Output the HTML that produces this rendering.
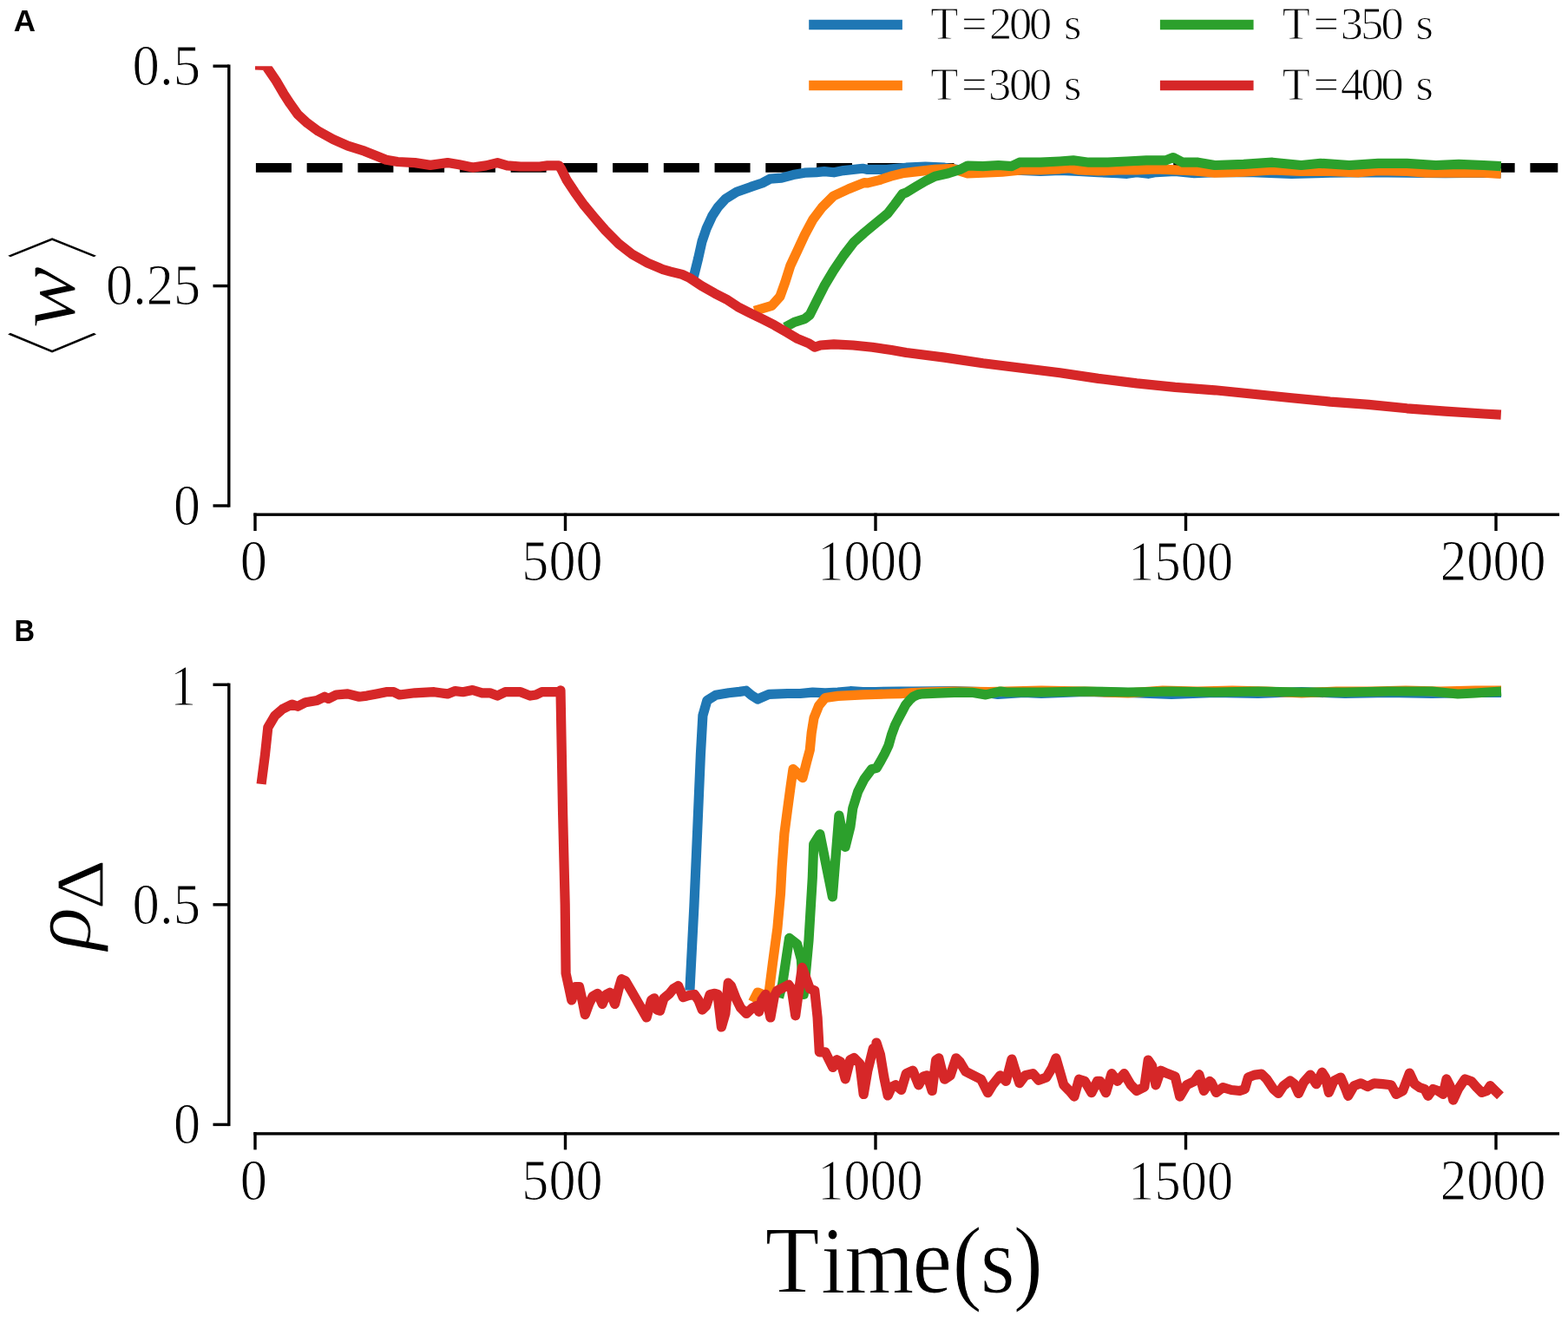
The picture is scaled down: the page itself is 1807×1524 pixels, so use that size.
<!DOCTYPE html>
<html><head><meta charset="utf-8"><title>Figure</title><style>html,body{margin:0;padding:0;background:#fff;}svg{display:block;}</style></head><body>
<svg width="1807" height="1524" viewBox="0 0 1807 1524">
<rect width="1807" height="1524" fill="#fff"/>
<defs><clipPath id="cA"><rect x="294" y="76.2" width="1501.5" height="506.8"/></clipPath><clipPath id="cB"><rect x="294" y="789.3" width="1501.5" height="507.1"/></clipPath></defs>
<line x1="294.9" y1="193.4" x2="1795.3" y2="193.4" stroke="#000" stroke-width="10.6" stroke-dasharray="41 17.74"/>
<path d="M796.0 320.5 L799.7 317.8 L804.6 298.1 L809.0 278.4 L814.0 263.7 L820.8 248.9 L827.2 239.1 L836.1 229.2 L848.9 221.3 L865.3 215.4 L878.5 211.0 L887.4 206.2 L900.7 205.2 L914.0 201.6 L927.2 199.2 L940.5 198.6 L950.0 197.6 L961.0 198.8 L972.0 196.6 L994.2 194.3 L1000.0 195.4 L1022.1 195.4 L1044.3 193.2 L1066.4 192.1 L1088.5 193.2 L1110.7 196.5 L1132.8 196.3 L1155.0 196.3 L1177.1 196.3 L1199.2 197.4 L1221.4 196.3 L1243.5 197.4 L1265.6 198.6 L1287.8 199.7 L1298.8 200.3 L1309.9 198.6 L1323.2 200.3 L1332.0 198.6 L1354.2 197.4 L1376.3 199.7 L1400.0 198.6 L1444.3 198.6 L1488.5 200.3 L1532.8 199.2 L1577.1 198.6 L1621.4 199.2 L1665.6 199.7 L1709.9 199.2 L1729.8 199.7" fill="none" stroke="#1f77b4" stroke-width="11.2" stroke-linejoin="round" stroke-linecap="butt" clip-path="url(#cA)"/>
<path d="M869.4 358.3 L889.5 352.4 L899.0 341.7 L904.9 325.2 L910.8 306.3 L919.1 288.6 L927.3 270.9 L936.8 253.1 L947.4 239.0 L960.4 226.0 L978.1 217.7 L995.8 210.6 L1000.0 210.9 L1013.3 207.6 L1026.6 203.2 L1039.8 199.8 L1057.6 197.6 L1077.5 195.4 L1097.4 194.3 L1115.1 199.8 L1132.8 199.2 L1155.0 198.1 L1177.1 195.9 L1199.2 195.9 L1221.4 194.8 L1232.4 193.7 L1243.5 195.9 L1265.6 197.0 L1287.8 195.9 L1309.9 195.9 L1332.0 194.8 L1354.2 195.9 L1376.3 197.0 L1400.0 199.2 L1433.2 198.1 L1466.4 195.9 L1499.6 197.5 L1532.8 197.5 L1566.0 198.8 L1588.2 196.6 L1621.4 197.5 L1643.5 199.2 L1676.7 198.8 L1709.9 199.2 L1729.8 200.4" fill="none" stroke="#ff7f0e" stroke-width="11.2" stroke-linejoin="round" stroke-linecap="butt" clip-path="url(#cA)"/>
<path d="M904.9 377.2 L915.5 371.3 L927.3 367.7 L933.2 363.0 L940.3 348.8 L949.8 329.9 L960.4 312.2 L972.2 294.5 L984.0 279.1 L995.8 268.5 L1010.0 256.7 L1023.0 246.1 L1031.3 235.4 L1040.0 223.6 L1044.3 222.0 L1055.3 215.3 L1066.4 208.7 L1077.5 203.2 L1093.0 199.8 L1106.3 195.4 L1115.1 191.0 L1132.8 191.6 L1150.5 190.5 L1166.0 191.6 L1174.9 187.2 L1199.2 187.2 L1221.4 186.0 L1236.9 184.9 L1254.6 187.2 L1276.7 187.2 L1298.8 186.0 L1321.0 184.9 L1343.1 184.9 L1352.0 181.6 L1363.0 187.2 L1380.7 187.2 L1400.0 190.5 L1433.2 189.4 L1466.4 187.2 L1499.6 190.5 L1521.7 188.3 L1555.0 190.5 L1588.2 188.3 L1621.4 188.3 L1654.6 190.5 L1681.1 189.4 L1709.9 190.5 L1729.8 191.6" fill="none" stroke="#2ca02c" stroke-width="11.2" stroke-linejoin="round" stroke-linecap="butt" clip-path="url(#cA)"/>
<path d="M294.0 75.0 L306.0 75.3 L309.6 80.5 L318.2 93.2 L326.7 107.7 L334.4 119.6 L342.9 131.6 L354.0 141.8 L366.8 151.2 L383.9 160.6 L400.9 168.2 L420.0 174.2 L433.9 179.8 L445.0 184.2 L458.2 186.5 L478.2 187.6 L495.9 190.4 L515.8 187.6 L529.1 189.8 L544.6 193.1 L560.1 190.9 L573.3 187.6 L584.4 190.9 L599.9 192.0 L622.0 192.0 L630.9 190.9 L644.2 190.9 L646.6 194.6 L653.3 207.9 L662.1 221.2 L673.2 236.7 L684.3 250.0 L697.6 265.5 L713.0 281.0 L728.5 293.1 L746.3 303.1 L764.0 310.6 L772.8 313.1 L786.1 316.4 L795.0 320.5 L808.2 329.4 L823.7 338.2 L837.0 344.9 L850.3 353.7 L863.6 360.4 L879.1 368.1 L892.4 374.8 L905.6 382.5 L918.9 390.3 L932.2 395.8 L938.8 400.2 L945.5 398.0 L961.0 396.9 L983.1 398.0 L1005.2 400.2 L1027.4 403.5 L1040.0 405.7 L1044.3 406.5 L1088.5 412.1 L1132.8 418.7 L1177.1 424.2 L1221.4 429.8 L1265.6 436.4 L1309.9 441.9 L1354.2 446.4 L1400.0 449.8 L1444.3 454.2 L1488.5 458.7 L1532.8 463.1 L1577.1 466.4 L1621.4 470.8 L1665.6 474.2 L1709.9 477.0 L1729.8 478.1" fill="none" stroke="#d62728" stroke-width="11.2" stroke-linejoin="round" stroke-linecap="butt" clip-path="url(#cA)"/>
<path d="M794.9 1141.8 L799.9 1044.5 L803.7 957.1 L807.4 869.8 L809.9 824.9 L814.9 807.4 L824.9 801.2 L839.8 798.7 L852.3 797.4 L859.8 796.2 L866.0 801.5 L873.1 806.0 L886.1 800.3 L907.7 799.5 L922.2 799.5 L936.6 798.1 L951.0 798.8 L965.5 798.1 L979.9 796.7 L994.3 797.5 L1008.8 797.5 L1037.6 797.2 L1052.1 797.0 L1100.0 796.5 L1130.0 797.5 L1150.0 800.5 L1180.0 798.5 L1200.0 799.5 L1250.0 797.5 L1300.0 798.5 L1350.0 800.5 L1400.0 798.5 L1450.0 799.5 L1500.0 797.5 L1550.0 799.5 L1600.0 798.5 L1650.0 799.5 L1700.0 798.5 L1730.0 798.5" fill="none" stroke="#1f77b4" stroke-width="11.2" stroke-linejoin="round" stroke-linecap="butt" clip-path="url(#cB)"/>
<path d="M867.5 1155.0 L873.1 1144.0 L877.8 1146.0 L885.8 1147.0 L890.5 1110.0 L895.9 1070.0 L899.5 1030.0 L901.1 1000.0 L903.9 961.0 L907.5 933.5 L911.2 905.9 L914.0 886.6 L925.0 896.7 L929.6 878.4 L933.3 864.6 L935.2 845.0 L938.0 827.6 L943.8 813.2 L951.0 804.5 L965.5 802.4 L979.9 801.7 L994.3 800.9 L1008.8 800.5 L1023.2 800.0 L1037.6 799.6 L1052.0 798.5 L1066.0 798.0 L1081.0 797.5 L1100.0 797.0 L1140.0 797.5 L1160.0 797.0 L1200.0 796.0 L1250.0 797.0 L1300.0 799.0 L1340.0 796.0 L1380.0 797.0 L1420.0 796.0 L1460.0 797.0 L1500.0 799.0 L1540.0 797.0 L1580.0 797.0 L1620.0 796.0 L1660.0 797.0 L1700.0 796.0 L1730.0 796.0" fill="none" stroke="#ff7f0e" stroke-width="11.2" stroke-linejoin="round" stroke-linecap="butt" clip-path="url(#cB)"/>
<path d="M897.5 1150.0 L901.6 1134.8 L909.6 1081.4 L918.6 1088.4 L923.3 1105.9 L926.2 1146.4 L932.0 1084.0 L936.3 1012.2 L937.7 973.2 L944.9 961.6 L959.4 1033.8 L966.9 940.2 L974.1 976.3 L979.9 953.2 L982.8 931.6 L988.6 912.8 L995.8 898.4 L1004.4 886.8 L1010.2 885.4 L1014.9 877.4 L1019.5 868.9 L1024.1 859.1 L1027.4 847.2 L1031.5 836.0 L1035.5 828.0 L1039.5 820.5 L1043.5 812.8 L1048.3 807.0 L1052.5 803.1 L1058.0 800.6 L1063.3 799.8 L1080.0 799.2 L1106.0 798.2 L1120.0 798.3 L1136.0 800.9 L1153.0 797.0 L1160.0 798.0 L1200.0 798.0 L1250.0 797.0 L1300.0 798.0 L1350.0 797.0 L1400.0 798.0 L1450.0 797.0 L1500.0 798.0 L1550.0 798.0 L1600.0 797.0 L1650.0 797.0 L1680.0 800.0 L1700.0 799.0 L1730.0 797.0" fill="none" stroke="#2ca02c" stroke-width="11.2" stroke-linejoin="round" stroke-linecap="butt" clip-path="url(#cB)"/>
<path d="M301.1 903.9 L305.5 869.6 L308.8 838.6 L316.6 825.3 L325.4 817.6 L336.5 812.1 L343.1 814.3 L352.0 809.8 L365.3 807.6 L374.1 803.2 L378.5 805.4 L387.4 801.0 L400.7 799.9 L414.0 803.2 L422.8 802.1 L433.9 799.9 L445.0 797.7 L453.8 797.7 L460.4 801.0 L478.2 798.8 L500.3 797.7 L515.8 799.9 L524.6 796.6 L533.5 797.7 L544.6 795.5 L555.6 798.8 L564.5 798.8 L573.3 802.1 L582.2 797.7 L599.9 797.7 L611.0 802.1 L617.6 801.0 L624.3 797.7 L644.2 797.7 L646.0 795.8 L648.6 937.6 L651.2 1042.6 L652.1 1122.1 L655.5 1137.6 L658.8 1153.0 L663.2 1137.6 L667.6 1137.6 L671.0 1153.0 L674.3 1169.7 L678.7 1157.5 L683.1 1148.6 L688.7 1145.3 L694.2 1157.5 L698.6 1146.4 L703.0 1144.2 L708.6 1157.5 L713.0 1139.8 L716.3 1128.7 L720.8 1130.9 L727.4 1142.0 L736.3 1157.5 L745.1 1173.0 L750.6 1153.0 L754.0 1150.8 L757.3 1164.1 L760.6 1165.2 L765.0 1150.8 L771.7 1145.3 L776.1 1139.8 L781.6 1136.4 L787.2 1149.7 L793.8 1147.5 L800.4 1146.4 L804.9 1153.0 L809.3 1164.1 L813.7 1159.7 L818.2 1146.4 L823.7 1145.3 L827.0 1146.4 L831.4 1184.0 L835.9 1168.5 L839.2 1133.1 L842.5 1136.4 L848.0 1150.8 L853.6 1161.9 L860.2 1168.5 L866.9 1161.9 L871.3 1159.7 L874.6 1166.3 L877.9 1153.0 L882.4 1146.4 L887.9 1173.0 L892.3 1148.6 L895.6 1142.0 L902.3 1138.7 L908.9 1135.3 L912.2 1139.8 L916.7 1170.8 L920.0 1146.4 L924.4 1115.4 L927.7 1124.3 L933.3 1139.8 L938.8 1142.0 L942.1 1173.0 L944.3 1212.8 L951.0 1212.8 L955.4 1221.7 L959.8 1230.5 L964.3 1221.7 L968.7 1223.9 L974.2 1243.8 L979.8 1221.7 L984.2 1219.5 L990.8 1226.1 L995.2 1261.5 L999.7 1235.0 L1006.3 1208.4 L1010.7 1206.2 L1010.0 1202.1 L1014.4 1215.4 L1018.8 1242.0 L1023.2 1263.0 L1027.7 1253.0 L1032.1 1250.8 L1038.7 1256.4 L1044.3 1237.6 L1052.0 1234.2 L1058.7 1250.8 L1064.2 1240.9 L1068.6 1239.8 L1074.2 1257.5 L1078.6 1222.1 L1081.9 1219.8 L1085.2 1233.1 L1088.5 1244.2 L1095.2 1239.8 L1101.8 1219.8 L1106.3 1224.3 L1112.9 1235.3 L1121.7 1239.8 L1130.6 1244.2 L1138.4 1259.7 L1143.9 1250.8 L1152.7 1239.8 L1159.4 1246.4 L1166.0 1221.0 L1170.4 1235.3 L1174.9 1248.6 L1181.5 1239.8 L1190.4 1237.6 L1197.0 1245.3 L1205.9 1242.0 L1212.5 1230.9 L1216.9 1219.8 L1221.4 1235.3 L1225.8 1250.8 L1232.4 1257.5 L1238.0 1264.1 L1243.5 1244.2 L1250.1 1246.4 L1257.9 1259.7 L1264.5 1246.4 L1267.8 1246.4 L1274.5 1259.7 L1281.1 1237.6 L1287.8 1246.4 L1295.5 1237.6 L1303.3 1250.8 L1309.9 1257.5 L1318.8 1253.0 L1323.2 1222.1 L1327.6 1228.7 L1332.0 1250.8 L1337.6 1234.2 L1345.3 1237.6 L1354.2 1240.9 L1359.7 1264.1 L1367.5 1250.8 L1376.3 1246.4 L1381.8 1238.7 L1387.4 1257.5 L1394.0 1246.4 L1395.8 1247.8 L1401.6 1259.4 L1409.4 1253.6 L1419.1 1256.5 L1428.7 1257.5 L1434.5 1255.5 L1438.4 1242.0 L1446.2 1239.1 L1453.9 1238.1 L1459.7 1243.9 L1467.5 1255.5 L1473.3 1260.4 L1479.1 1251.7 L1486.8 1245.9 L1491.7 1249.7 L1496.5 1260.4 L1502.3 1247.8 L1510.1 1239.1 L1516.9 1249.7 L1523.6 1236.2 L1527.5 1242.0 L1531.4 1259.4 L1537.2 1245.9 L1545.0 1242.0 L1550.8 1255.5 L1553.7 1263.3 L1560.4 1251.7 L1568.2 1248.8 L1575.9 1252.6 L1583.7 1248.8 L1593.4 1249.7 L1603.1 1250.7 L1608.9 1261.4 L1616.6 1257.5 L1624.4 1237.1 L1630.2 1249.7 L1636.0 1253.6 L1641.8 1255.5 L1645.7 1263.3 L1651.5 1255.5 L1657.3 1257.5 L1663.1 1261.4 L1667.0 1243.9 L1670.9 1251.7 L1674.7 1268.1 L1680.5 1255.5 L1688.3 1243.9 L1696.0 1246.8 L1701.8 1253.6 L1707.7 1259.4 L1713.5 1257.5 L1717.3 1251.7 L1723.1 1257.5 L1729.0 1263.3" fill="none" stroke="#d62728" stroke-width="11.2" stroke-linejoin="round" stroke-linecap="butt" clip-path="url(#cB)"/>
<g fill="#000"><rect x="262.10" y="74.50" width="3.4" height="510.20"/>
<rect x="245.5" y="74.50" width="18.30" height="3.4"/>
<rect x="245.5" y="327.90" width="18.30" height="3.4"/>
<rect x="245.5" y="581.30" width="18.30" height="3.4"/>
<rect x="292.30" y="591.50" width="1504.70" height="3.4"/>
<rect x="292.30" y="591.50" width="3.4" height="20.50"/>
<rect x="649.80" y="591.50" width="3.4" height="20.50"/>
<rect x="1007.30" y="591.50" width="3.4" height="20.50"/>
<rect x="1364.80" y="591.50" width="3.4" height="20.50"/>
<rect x="1722.30" y="591.50" width="3.4" height="20.50"/>
<rect x="262.10" y="787.60" width="3.4" height="510.50"/>
<rect x="245.5" y="787.60" width="18.30" height="3.4"/>
<rect x="245.5" y="1041.15" width="18.30" height="3.4"/>
<rect x="245.5" y="1294.70" width="18.30" height="3.4"/>
<rect x="292.30" y="1305.20" width="1504.70" height="3.4"/>
<rect x="292.30" y="1305.20" width="3.4" height="20.20"/>
<rect x="649.80" y="1305.20" width="3.4" height="20.20"/>
<rect x="1007.30" y="1305.20" width="3.4" height="20.20"/>
<rect x="1364.80" y="1305.20" width="3.4" height="20.20"/>
<rect x="1722.30" y="1305.20" width="3.4" height="20.20"/></g>
<line x1="932.2" y1="28.5" x2="1039.9" y2="28.5" stroke="#1f77b4" stroke-width="11.3"/>
<line x1="932.2" y1="98.5" x2="1039.9" y2="98.5" stroke="#ff7f0e" stroke-width="11.3"/>
<line x1="1336.9" y1="28.5" x2="1444.6" y2="28.5" stroke="#2ca02c" stroke-width="11.3"/>
<line x1="1336.9" y1="98.5" x2="1444.6" y2="98.5" stroke="#d62728" stroke-width="11.3"/>
<g fill="#000"><text font-family='"Liberation Sans", sans-serif' font-weight="bold" font-style="normal" font-size="100" transform="matrix(0.3500 0.0000 0.0000 0.3515 15.8500 36.2515)">A</text>
<text font-family='"Liberation Sans", sans-serif' font-weight="bold" font-style="normal" font-size="100" transform="matrix(0.3262 0.0000 0.0000 0.3464 16.6164 738.8000)">B</text>
<text font-family='"Liberation Serif", serif' font-weight="normal" font-style="normal" font-size="100" stroke="#fff" stroke-width="1.525" transform="matrix(0.6274 0.0000 0.0000 0.6851 152.5906 97.9299)">0.5</text>
<text font-family='"Liberation Serif", serif' font-weight="normal" font-style="normal" font-size="100" stroke="#fff" stroke-width="1.542" transform="matrix(0.6234 0.0000 0.0000 0.6746 122.1066 351.0507)">0.25</text>
<text font-family='"Liberation Serif", serif' font-weight="normal" font-style="normal" font-size="100" stroke="#fff" stroke-width="1.544" transform="matrix(0.6190 0.0000 0.0000 0.6776 200.0238 604.8448)">0</text>
<text font-family='"Liberation Serif", serif' font-weight="normal" font-style="normal" font-size="100" stroke="#fff" stroke-width="1.576" transform="matrix(0.5971 0.0000 0.0000 0.6742 196.3257 813.1000)">1</text>
<text font-family='"Liberation Serif", serif' font-weight="normal" font-style="normal" font-size="100" stroke="#fff" stroke-width="1.537" transform="matrix(0.6274 0.0000 0.0000 0.6746 152.5906 1064.6507)">0.5</text>
<text font-family='"Liberation Serif", serif' font-weight="normal" font-style="normal" font-size="100" stroke="#fff" stroke-width="1.543" transform="matrix(0.6238 0.0000 0.0000 0.6731 199.9048 1318.4537)">0</text>
<text font-family='"Liberation Serif", serif' font-weight="normal" font-style="normal" font-size="100" stroke="#fff" stroke-width="1.543" transform="matrix(0.6238 0.0000 0.0000 0.6731 276.8048 669.1537)">0</text>
<text font-family='"Liberation Serif", serif' font-weight="normal" font-style="normal" font-size="100" stroke="#fff" stroke-width="1.543" transform="matrix(0.6238 0.0000 0.0000 0.6731 276.8048 1382.7537)">0</text>
<text font-family='"Liberation Serif", serif' font-weight="normal" font-style="normal" font-size="100" stroke="#fff" stroke-width="1.546" transform="matrix(0.6214 0.0000 0.0000 0.6731 601.3714 669.2537)">500</text>
<text font-family='"Liberation Serif", serif' font-weight="normal" font-style="normal" font-size="100" stroke="#fff" stroke-width="1.546" transform="matrix(0.6214 0.0000 0.0000 0.6731 601.3714 1382.8537)">500</text>
<text font-family='"Liberation Serif", serif' font-weight="normal" font-style="normal" font-size="100" stroke="#fff" stroke-width="1.573" transform="matrix(0.6064 0.0000 0.0000 0.6662 942.2422 669.3676)">1000</text>
<text font-family='"Liberation Serif", serif' font-weight="normal" font-style="normal" font-size="100" stroke="#fff" stroke-width="1.573" transform="matrix(0.6064 0.0000 0.0000 0.6662 942.2422 1382.9676)">1000</text>
<text font-family='"Liberation Serif", serif' font-weight="normal" font-style="normal" font-size="100" stroke="#fff" stroke-width="1.581" transform="matrix(0.6043 0.0000 0.0000 0.6618 1300.2615 668.9765)">1500</text>
<text font-family='"Liberation Serif", serif' font-weight="normal" font-style="normal" font-size="100" stroke="#fff" stroke-width="1.581" transform="matrix(0.6043 0.0000 0.0000 0.6618 1300.2615 1382.5765)">1500</text>
<text font-family='"Liberation Serif", serif' font-weight="normal" font-style="normal" font-size="100" stroke="#fff" stroke-width="1.558" transform="matrix(0.6094 0.0000 0.0000 0.6761 1659.6625 669.3478)">2000</text>
<text font-family='"Liberation Serif", serif' font-weight="normal" font-style="normal" font-size="100" stroke="#fff" stroke-width="1.558" transform="matrix(0.6094 0.0000 0.0000 0.6761 1659.6625 1382.9478)">2000</text></g>
<g fill="#000"><text font-family='"Liberation Serif", "Noto Serif CJK SC", serif' font-weight="normal" font-style="normal" font-size="100" transform="matrix(0.0000 -0.5262 1.0840 0.0000 100.5436 434.4143)">〈</text><text font-family='"Liberation Serif", serif' font-weight="normal" font-style="italic" font-size="100" stroke="#fff" stroke-width="1.157" transform="matrix(0.0000 -1.0778 0.9979 0.0000 85.7021 378.8333)">w</text><text font-family='"Liberation Serif", "Noto Serif CJK SC", serif' font-weight="normal" font-style="normal" font-size="100" transform="matrix(0.0000 -0.5119 1.0840 0.0000 100.5436 298.2476)">〉</text></g>
<g fill="#000"><text font-family='"Liberation Serif", serif' font-weight="normal" font-style="italic" font-size="100" stroke="#fff" stroke-width="1.183" transform="matrix(0.0000 -1.0319 0.9971 0.0000 104.2618 1095.2362)">ρ</text><text font-family='"Liberation Serif", serif' font-weight="normal" font-style="normal" font-size="100" stroke="#fff" stroke-width="1.429" transform="matrix(0.0000 -0.9000 0.7833 0.0000 118.3000 1048.5000)">Δ</text></g>
<g fill="#000"><text x="858.72 921.28 947.94 1023.85 1068.79 1100.13 1137.28" y="0" font-family='"Liberation Serif", serif' font-size="100" stroke="#fff" stroke-width="0.944" transform="matrix(1.0269 0 0 1.0923 0 1489.950)">Time(s)</text></g>
<g fill="#000"><text x="2042.26 2110.65 2171.25 2215.02 2259.02 2305.02 2335.38" y="0" font-family='"Liberation Serif", serif' font-size="100" stroke="#fff" stroke-width="1.911" transform="matrix(0.5250 0 0 0.5218 0 45.290)">T=200 s</text>
<text x="2042.26 2110.65 2169.75 2215.02 2259.02 2305.02 2335.38" y="0" font-family='"Liberation Serif", serif' font-size="100" stroke="#fff" stroke-width="1.911" transform="matrix(0.5250 0 0 0.5218 0 115.290)">T=300 s</text>
<text x="2814.71 2883.10 2942.20 2986.47 3031.47 3077.47 3107.83" y="0" font-family='"Liberation Serif", serif' font-size="100" stroke="#fff" stroke-width="1.911" transform="matrix(0.5250 0 0 0.5218 0 45.290)">T=350 s</text>
<text x="2814.71 2883.10 2942.70 2987.47 3031.47 3077.47 3107.83" y="0" font-family='"Liberation Serif", serif' font-size="100" stroke="#fff" stroke-width="1.911" transform="matrix(0.5250 0 0 0.5218 0 115.290)">T=400 s</text></g>
</svg>
</body></html>
